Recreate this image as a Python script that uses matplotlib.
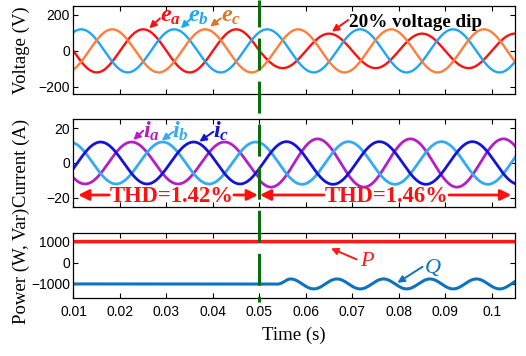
import numpy as np
import matplotlib
matplotlib.use('Agg')
import matplotlib.pyplot as plt
from matplotlib.lines import Line2D
from matplotlib.transforms import blended_transform_factory

# ---------------- data ----------------
time_span = [0.01, 0.105]
grid_freq_hz = 50.0
dip_time = 0.05

v_labels = [r'$e_a$', r'$e_b$', r'$e_c$']
v_amp_before = [120.0, 120.0, 120.0]
v_amp_after = [96.0, 120.0, 120.0]
v_phase_deg = [0.0, -120.0, 120.0]

i_labels = [r'$i_a$', r'$i_b$', r'$i_c$']
i_amp_before = [12.0, 12.0, 12.0]
i_amp_after = [13.8, 12.2, 12.2]
i_phase_deg = [45.0, -75.0, 165.0]

p_level = 1000.0
q_level = -1000.0
q_ripple_amp = 235.0
q_ripple_freq_hz = 100.0
q_ripple_start = 0.0528
q_ripple_first_peak = 0.0567

thd_before = 'THD=1.42%'
thd_after = 'THD=1.46%'
dip_text = '20% voltage dip'

x_ticks = [0.01, 0.02, 0.03, 0.04, 0.05, 0.06, 0.07, 0.08, 0.09, 0.1]
x_tick_labels = ['0.01', '0.02', '0.03', '0.04', '0.05', '0.06', '0.07', '0.08', '0.09', '0.1']
v_ticks = [-200, 0, 200]
i_ticks = [-20, 0, 20]
p_ticks = [-1000, 0, 1000]

# ---------------- style ----------------
plt.rcParams['font.family'] = ['Liberation Sans', 'DejaVu Sans']
plt.rcParams['mathtext.fontset'] = 'custom'
plt.rcParams['mathtext.it'] = 'Liberation Serif:italic:bold'
plt.rcParams['mathtext.rm'] = 'Liberation Serif:bold'
plt.rcParams['mathtext.bf'] = 'Liberation Serif:bold'
plt.rcParams['lines.scale_dashes'] = False

SERIF = 'Liberation Serif'
v_colors = ['#ff1010', '#1ea6f4', '#ff7f3a']
v_text_colors = ['#ff1010', '#1ea6f4', '#d9782e']
i_colors = ['#b41ec4', '#33aaf2', '#1414d8']
p_color = '#ff1a1a'
q_color = '#0f72bd'
dash_color = '#0b6e0b'

t = np.linspace(time_span[0], time_span[1], 3000)
w = 2 * np.pi * grid_freq_hz
after = t >= dip_time


def phase_wave(amp_b, amp_a, ph):
    amp = np.where(after, amp_a, amp_b)
    return amp * np.sin(w * t + np.deg2rad(ph))


fig = plt.figure(figsize=(5.26, 3.56), dpi=100)
L, W = 0.1397, 0.8394
ax1 = fig.add_axes([L, 0.736, W, 0.2472])
ax2 = fig.add_axes([L, 0.4194, W, 0.2455])
ax3 = fig.add_axes([L, 0.162, W, 0.1843])

for k in range(3):
    ax1.plot(t, phase_wave(v_amp_before[k], v_amp_after[k], v_phase_deg[k]),
             color=v_colors[k], lw=1.7)
for k in range(3):
    ax2.plot(t, phase_wave(i_amp_before[k], i_amp_after[k], i_phase_deg[k]),
             color=i_colors[k], lw=2.0)

env = np.clip((t - q_ripple_start) / (q_ripple_first_peak - q_ripple_start), 0, 1)
env = env * env * (3 - 2 * env)
q = q_level + q_ripple_amp * env * np.cos(2 * np.pi * q_ripple_freq_hz * (t - q_ripple_first_peak))
p = np.full_like(t, p_level)
ax3.plot(t, p, color=p_color, lw=2.6)
ax3.plot(t, q, color=q_color, lw=2.2)

for ax, lim, ticks in [(ax1, (-240, 250), v_ticks), (ax2, (-25, 25), i_ticks),
                       (ax3, (-1680, 1420), p_ticks)]:
    ax.set_xlim(time_span)
    ax.set_ylim(lim)
    ax.set_yticks(ticks)
    ax.set_xticks(x_ticks)
    ax.tick_params(direction='in', top=True, right=True, length=3.5, width=0.8,
                   labelsize=10, pad=2.5)
    for s in ax.spines.values():
        s.set_linewidth(0.9)
ax1.set_xticklabels([])
ax2.set_xticklabels([])
ax3.set_xticklabels(x_tick_labels)
ax3.tick_params(axis='x', pad=5)

# y labels
for ax, lab in [(ax1, 'Voltage (V)'), (ax2, 'Current (A)'), (ax3, 'Power (W, Var)')]:
    bb = ax.get_position()
    fig.text(0.040, bb.y0 + bb.height / 2, lab, rotation=90, ha='center', va='center',
             family=SERIF, fontsize=13.5)
fig.text(L + W / 2, 0.058, 'Time (s)', ha='center', va='center', family=SERIF, fontsize=13.5)


def arrow(ax, tail, head, color, lw=1.4, ms=10):
    ax.annotate('', xy=head, xytext=tail,
                arrowprops=dict(arrowstyle='-|>', color=color, lw=lw,
                                mutation_scale=ms, shrinkA=0, shrinkB=0))


# voltage annotations
v_text_pos = [(0.0308, 160), (0.0369, 160), (0.0438, 160)]
v_tails = [(0.0286, 181), (0.0351, 176), (0.0417, 181)]
v_heads = [(0.0263, 126), (0.0331, 126), (0.0394, 135)]
for k in range(3):
    ax1.text(*v_text_pos[k], v_labels[k], color=v_text_colors[k], fontsize=17.5,
             ha='center', va='baseline')
    arrow(ax1, v_tails[k], v_heads[k], v_text_colors[k])
ax1.text(0.0693, 134, dip_text, family=SERIF, fontweight='bold', fontsize=13.8,
         ha='left', va='baseline', color='black')
arrow(ax1, (0.0691, 172), (0.0656, 107), '#ff1010')

# current annotations
i_text_pos = [(0.0267, 14.3), (0.0331, 14.3), (0.0417, 14.3)]
i_tails = [(0.0250, 18.5), (0.0315, 17.9), (0.0401, 17.9)]
i_heads = [(0.0229, 13.2), (0.0290, 12.8), (0.0371, 12.2)]
for k in range(3):
    ax2.text(*i_text_pos[k], i_labels[k], color=i_colors[k], fontsize=17.5,
             ha='center', va='baseline')
    arrow(ax2, i_tails[k], i_heads[k], i_colors[k])

thd_y = -18.3
ax2.text(0.0311, thd_y - 0.8, thd_before, family=SERIF, fontweight='bold', fontsize=16.3,
         color='#ff1010', ha='center', va='center')
ax2.text(0.0774, thd_y - 0.8, thd_after, family=SERIF, fontweight='bold', fontsize=16.3,
         color='#ff1010', ha='center', va='center')
for tail, head in [((0.0177, thd_y), (0.0110, thd_y)), ((0.0445, thd_y), (0.0497, thd_y)),
                   ((0.0639, thd_y), (0.0501, thd_y)), ((0.0908, thd_y), (0.1042, thd_y))]:
    arrow(ax2, tail, head, '#ff1010', lw=2.0, ms=16)

# power annotations
ax3.text(0.0731, 60, 'P', family=SERIF, fontstyle='italic', fontsize=16, color=p_color,
         ha='center', va='center')
arrow(ax3, (0.0709, 161), (0.0654, 680), p_color)
ax3.text(0.0873, -280, 'Q', family=SERIF, fontstyle='italic', fontsize=16, color=q_color,
         ha='center', va='center')
arrow(ax3, (0.0851, -189), (0.0797, -945), q_color)

# dashed event line across all panels (dash lengths in points, unscaled)
trans = blended_transform_factory(ax3.transData, fig.transFigure)
fig.add_artist(Line2D([dip_time, dip_time], [1.0, 1 - 302 / 356], transform=trans,
                      color=dash_color, lw=2.2, linestyle=(3.6, (23.0, 8.0)),
                      zorder=10))

fig.savefig('out.png', dpi=100)
